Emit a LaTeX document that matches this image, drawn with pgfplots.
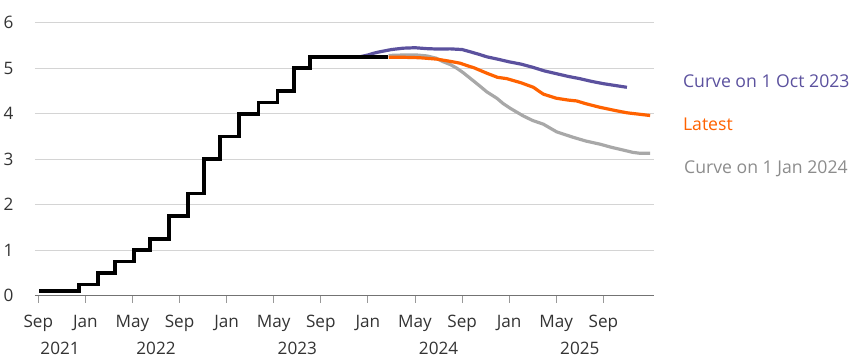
\documentclass[border=0pt]{standalone}
\usepackage{pgfplots}
\pgfplotsset{compat=1.18}
\usepackage{fontspec}
\setmainfont{Open Sans}
\definecolor{ingpurple}{HTML}{5B519E}
\definecolor{ingorange}{HTML}{FF6200}
\definecolor{inggray}{HTML}{A8A8A8}
\definecolor{inggraytext}{HTML}{8C8C8C}
\definecolor{labeltext}{HTML}{333333}
\begin{document}
\begin{tikzpicture}
\useasboundingbox (-35bp,-60.3bp) rectangle (814bp,295.7bp);
\begin{axis}[
  at={(0,0)}, anchor=south west,
  scale only axis, width=619bp, height=273bp,
  xmin=-0.28, xmax=52.3, ymin=0, ymax=6,
  clip=false,
  axis x line*=bottom, axis y line*=left,
  y axis line style={draw=none},
  x axis line style={-, draw=black!55, line width=1.2bp},
  xtick={0,4,...,48},
  xticklabels={Sep,Jan,May,Sep,Jan,May,Sep,Jan,May,Sep,Jan,May,Sep},
  ytick={0,1,...,6},
  tick align=outside,
  major tick length=7bp,
  xtick style={draw=black!40, line width=0.9bp},
  ytick style={draw=none},
  ymajorgrids,
  grid style={draw=black!17, line width=1bp},
  /pgf/number format/assume math mode=true,
  tick label style={font=\fontsize{17.2}{20}\selectfont, text=labeltext, inner sep=0pt},
  xticklabel style={anchor=north, yshift=-12.3bp},
  yticklabel style={anchor=east, xshift=-14.3bp},
]
% Curve on 1 Oct 2023
\addplot[ingpurple, line width=3.2bp, line join=round] coordinates {
(25,5.25) (27.3,5.25) (28,5.29) (28.5,5.33) (29,5.36) (30,5.41) (31,5.44) (32,5.45)
(33,5.43) (34,5.42) (35,5.425) (36,5.41) (36.7,5.36) (37.5,5.30) (38.1,5.25) (39,5.20)
(40,5.14) (41,5.09) (42,5.02) (43,4.94) (44,4.88) (45,4.82) (46,4.77) (47,4.71)
(48,4.66) (49,4.62) (50,4.58)
};
% Curve on 1 Jan 2024
\addplot[inggray, line width=3.2bp, line join=round] coordinates {
(29.75,5.28) (31,5.29) (32.15,5.29) (33.0,5.27) (33.8,5.22) (34.41,5.14) (35,5.08)
(35.55,5.00) (36.1,4.90) (36.68,4.78) (37.4,4.63) (38.1,4.48) (38.95,4.34) (39.5,4.22)
(40.08,4.12) (41.2,3.95) (42,3.85) (42.9,3.77) (43.5,3.68) (44.04,3.60) (45.45,3.48)
(46.5,3.40) (47.72,3.33) (48.7,3.26) (49.7,3.20) (50.5,3.15) (51.12,3.13) (51.97,3.13)
};
% Latest
\addplot[ingorange, line width=3.2bp, line join=round] coordinates {
(29.75,5.24) (31,5.24) (32.4,5.23) (33.85,5.20) (35,5.15) (35.83,5.11) (36.5,5.05)
(37,5.01) (38.1,4.89) (39,4.80) (39.8,4.77) (41,4.68) (42.06,4.58) (42.5,4.50)
(42.9,4.43) (44,4.34) (45,4.30) (45.74,4.28) (46.5,4.22) (47.72,4.14) (49,4.07)
(50,4.02) (51,3.99) (51.97,3.96)
};
% Bank Rate (actual)
\addplot[black, line width=3.6bp, const plot] coordinates {
(0.08,0.1) (3.48,0.25) (5.07,0.5) (6.52,0.75) (8.13,1.0) (9.5,1.25) (11.1,1.75)
(12.7,2.25) (14.07,3.0) (15.45,3.5) (17.04,4.0) (18.71,4.25) (20.32,4.5) (21.7,5.0)
(23.06,5.25) (29.73,5.25)
};
% year labels
\begin{scope}[every node/.style={anchor=north, inner sep=0pt, font=\fontsize{17.2}{20}\selectfont, text=labeltext}]
\node at (axis cs:1.85,0) [yshift=-45.8bp] {2021};
\node at (axis cs:10,0) [yshift=-45.8bp] {2022};
\node at (axis cs:22,0) [yshift=-45.8bp] {2023};
\node at (axis cs:34,0) [yshift=-45.8bp] {2024};
\node at (axis cs:46,0) [yshift=-45.8bp] {2025};
\end{scope}
% series labels
\begin{scope}[every node/.style={anchor=base west, inner sep=0pt, font=\fontsize{17.7}{20}\selectfont}]
\node[text=ingpurple] at (axis cs:54.75,4.58) {Curve on 1 Oct 2023};
\node[text=ingorange] at (axis cs:54.75,3.64) {Latest};
\node[text=inggraytext] at (axis cs:54.85,2.69) {Curve on 1 Jan 2024};
\end{scope}
\end{axis}
\end{tikzpicture}
\end{document}
